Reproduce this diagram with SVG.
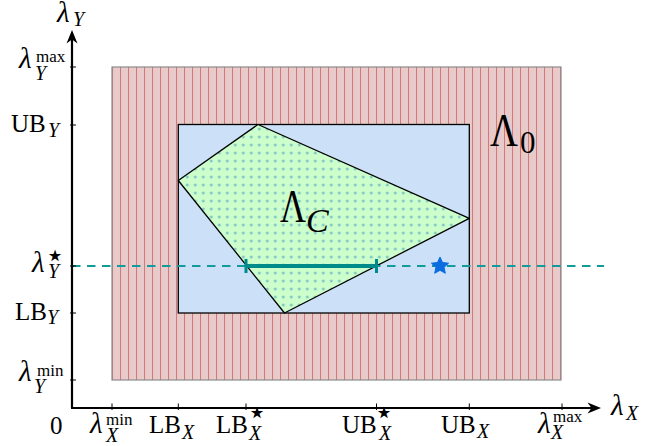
<svg xmlns="http://www.w3.org/2000/svg" width="662" height="446" viewBox="0 0 662 446">
<style>
.t{font-family:"Liberation Serif","Times New Roman",serif;font-size:25px;fill:#000}
.i{font-style:italic}
.l{font-size:29px}
.s{font-size:17px}
.b{font-size:20px}
.st{font-family:"DejaVu Sans",sans-serif;font-size:32px}
.ax{stroke:#000;stroke-width:2.2;fill:none}
.tk{stroke:#000;stroke-width:1}
</style>
<defs>
<pattern id="vl" patternUnits="userSpaceOnUse" x="0" y="0" width="8" height="8">
<line x1="0.5" y1="0" x2="0.5" y2="8" stroke="#cf7b7b" stroke-width="1.1"/>
</pattern>
<pattern id="dots" patternUnits="userSpaceOnUse" x="3.3" y="1" width="8" height="8">
<circle cx="0" cy="0" r="1.5" fill="#80c6c2"/>
<circle cx="8" cy="0" r="1.5" fill="#80c6c2"/>
<circle cx="0" cy="8" r="1.5" fill="#80c6c2"/>
<circle cx="8" cy="8" r="1.5" fill="#80c6c2"/>
</pattern>
</defs>

<g id="lambda0">
<rect x="112" y="67" width="449" height="313" fill="#e8caca" stroke="none"/>
<rect x="112" y="67" width="449" height="313" fill="url(#vl)" stroke="#8a8a8a" stroke-width="1.2"/>
</g>

<g id="bounds-box">
<rect x="178.3" y="124.5" width="291" height="188.5" fill="#cce1f7" stroke="#000" stroke-width="1.3"/>
</g>

<g id="lambdaC">
<polygon points="258,124.5 178.3,180.5 284.5,313 469.3,218.3" fill="#ccffcc" stroke="none"/>
<polygon points="258,124.5 178.3,180.5 284.5,313 469.3,218.3" fill="url(#dots)" stroke="#000" stroke-width="1.3" stroke-linejoin="round"/>
</g>

<g id="connectors">
<line x1="72" y1="266" x2="604" y2="266" stroke="#129b9b" stroke-width="2" stroke-dasharray="8.5,6.5"/>
<line class="ax" x1="72" y1="408" x2="72" y2="37"/>
<line class="ax" x1="71" y1="408" x2="594" y2="408"/>
<path d="M72,30 L66.5,43.5 L72,39.5 L77.5,43.5 Z" fill="#000"/>
<path d="M601,408 L587.5,402.5 L591.5,408 L587.5,413.5 Z" fill="#000"/>
<g class="tk">
<line x1="70" y1="67" x2="76" y2="67"/>
<line x1="70" y1="125" x2="76" y2="125"/>
<line x1="70" y1="266" x2="76" y2="266"/>
<line x1="70" y1="313" x2="76" y2="313"/>
<line x1="70" y1="380" x2="76" y2="380"/>
<line x1="112" y1="403.5" x2="112" y2="410"/>
<line x1="178.3" y1="403.5" x2="178.3" y2="410"/>
<line x1="246" y1="403.5" x2="246" y2="410"/>
<line x1="376.5" y1="403.5" x2="376.5" y2="410"/>
<line x1="469.3" y1="403.5" x2="469.3" y2="410"/>
<line x1="562" y1="403.5" x2="562" y2="410"/>
</g>
</g>

<g id="interval">
<line x1="246" y1="266" x2="376.5" y2="266" stroke="#008b8b" stroke-width="4"/>
<line x1="246" y1="259" x2="246" y2="273" stroke="#008b8b" stroke-width="3"/>
<line x1="376.5" y1="259" x2="376.5" y2="273" stroke="#008b8b" stroke-width="3"/>
</g>

<g id="star-point">
<polygon points="440,257 442.53,262.52 448.56,263.22 444.09,267.33 445.29,273.28 440,270.3 434.71,273.28 435.91,267.33 431.44,263.22 437.47,262.52" fill="#0a6ce0" stroke="#0a6ce0" stroke-width="1" stroke-linejoin="round"/>
</g>

<g id="region-labels">
<text class="t" x="490" y="146" textLength="28" lengthAdjust="spacingAndGlyphs" style="font-size:46px">Λ</text>
<text class="t" x="520" y="153" style="font-size:31px">0</text>
<text class="t" x="280" y="222" textLength="26" lengthAdjust="spacingAndGlyphs" style="font-size:46px">Λ</text>
<text class="t i" x="306" y="232" style="font-size:34px">C</text>
</g>

<g id="y-labels">
<text class="t i l" x="57" y="22">λ</text><text class="t i b" x="73" y="26">Y</text>
<text class="t i l" x="19" y="68">λ</text><text class="t s" x="36" y="62">max</text><text class="t i b" x="35" y="80">Y</text>
<text class="t" x="11" y="132">UB</text><text class="t i b" x="48" y="137">Y</text>
<text class="t i l" x="32" y="272">λ</text><text class="st" x="45" y="266">⋆</text><text class="t i b" x="48" y="278">Y</text>
<text class="t" x="15" y="320">LB</text><text class="t i b" x="47" y="324">Y</text>
<text class="t i l" x="19" y="381">λ</text><text class="t s" x="37" y="376">min</text><text class="t i b" x="34" y="393">Y</text>
</g>

<g id="x-labels">
<text class="t" x="50" y="434">0</text>
<text class="t i l" x="90" y="433">λ</text><text class="t s" x="106" y="425">min</text><text class="t i b" x="106" y="442">X</text>
<text class="t" x="149" y="433">LB</text><text class="t i b" x="182" y="439">X</text>
<text class="t" x="216" y="433">LB</text><text class="st" x="247" y="423">⋆</text><text class="t i b" x="249" y="440">X</text>
<text class="t" x="342" y="433">UB</text><text class="st" x="374" y="423">⋆</text><text class="t i b" x="379" y="440">X</text>
<text class="t" x="441" y="433">UB</text><text class="t i b" x="477" y="438">X</text>
<text class="t i l" x="538" y="433">λ</text><text class="t s" x="553" y="422">max</text><text class="t i b" x="551" y="439">X</text>
<text class="t i l" x="611" y="415">λ</text><text class="t i b" x="626" y="420">X</text>
</g>
</svg>
